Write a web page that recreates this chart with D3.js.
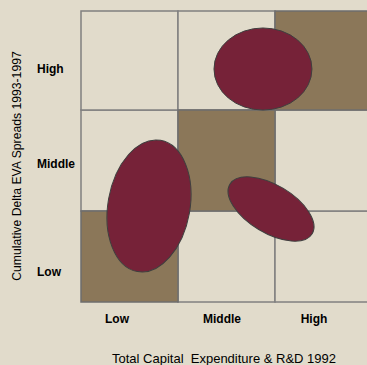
<!DOCTYPE html>
<html>
<head>
<meta charset="utf-8">
<script src="https://cdn.jsdelivr.net/npm/d3@7"></script>
<style>
  html, body { margin: 0; padding: 0; background: #e1dbcb; }
  svg { display: block; }
  text { font-family: "Liberation Sans", Arial, sans-serif; fill: #000; }
</style>
</head>
<body>
<script>
// Level names along each axis
const levels = ["Low", "Middle", "High"];

// Highlighted (diagonal) cells: [column index, row index]
const shadedCells = [[0, 0], [1, 1], [2, 2]];

// Clusters drawn as ellipses, in grid units (one cell = 1 unit)
const clusterCx    = [1.876, 0.701, 1.959];
const clusterCy    = [2.414, 1.05, 1.02];
const clusterRx    = [0.505, 0.423, 0.495];
const clusterRy    = [0.423, 0.687, 0.247];
const clusterAngle = [0, 10, 31];

const xTitle = "Total Capital  Expenditure & R&D 1992";
const yTitle = "Cumulative Delta EVA Spreads 1993-1997";

const W = 367, H = 365;
const svg = d3.select("body").append("svg").attr("width", W).attr("height", H);

// Grid scales
const x = d3.scaleLinear().domain([0, 3]).range([81, 372]);
const y = d3.scaleLinear().domain([0, 1, 2, 3]).range([302, 211, 110, 11]);

// Label scales (level index -> label anchor)
const xLab = d3.scaleLinear().domain([0, 1, 2]).range([117, 222, 314]);
const yLab = d3.scaleLinear().domain([0, 1, 2]).range([276, 168, 73]);

const grid = svg.append("g");
const cells = [];
for (let i = 0; i < 3; i++) for (let j = 0; j < 3; j++) cells.push([i, j]);
const isShaded = (c) => shadedCells.some(s => s[0] === c[0] && s[1] === c[1]);

grid.selectAll("rect.cell").data(cells.filter(c => !isShaded(c))).join("rect")
  .attr("class", "cell")
  .attr("x", d => x(d[0])).attr("y", d => y(d[1] + 1))
  .attr("width", d => x(d[0] + 1) - x(d[0]))
  .attr("height", d => y(d[1]) - y(d[1] + 1))
  .attr("fill", "#e1dbcb").attr("stroke", "#808080").attr("stroke-width", 1.5);

grid.selectAll("rect.shade").data(shadedCells).join("rect")
  .attr("class", "shade")
  .attr("x", d => x(d[0])).attr("y", d => y(d[1] + 1))
  .attr("width", d => x(d[0] + 1) - x(d[0]))
  .attr("height", d => y(d[1]) - y(d[1] + 1))
  .attr("fill", "#8b7759").attr("stroke", "#6e6e6e").attr("stroke-width", 1.5);

// Cluster ellipses
const unit = x(1) - x(0);
svg.append("g").selectAll("ellipse").data(clusterCx.map((cx, i) => i)).join("ellipse")
  .attr("transform", i => `translate(${x(clusterCx[i])},${y(clusterCy[i])}) rotate(${clusterAngle[i]})`)
  .attr("rx", i => clusterRx[i] * unit)
  .attr("ry", i => clusterRy[i] * unit)
  .attr("fill", "#762238")
  .attr("stroke", "#3f3f3f")
  .attr("stroke-width", 1);

// Axis level labels
svg.append("g").selectAll("text").data(levels).join("text")
  .attr("x", (d, i) => xLab(i)).attr("y", 323)
  .attr("text-anchor", "middle")
  .style("font-size", "12px").style("font-weight", "bold")
  .text(d => d);

svg.append("g").selectAll("text").data(levels).join("text")
  .attr("x", 37).attr("y", (d, i) => yLab(i))
  .style("font-size", "12px").style("font-weight", "bold")
  .text(d => d);

// Axis titles
svg.append("text")
  .attr("x", 224).attr("y", 363)
  .attr("text-anchor", "middle")
  .style("font-size", "13px")
  .style("white-space", "pre")
  .attr("xml:space", "preserve")
  .text(xTitle);

svg.append("text")
  .attr("transform", "translate(21,166) rotate(-90)")
  .attr("text-anchor", "middle")
  .style("font-size", "12.2px")
  .text(yTitle);
</script>
</body>
</html>
